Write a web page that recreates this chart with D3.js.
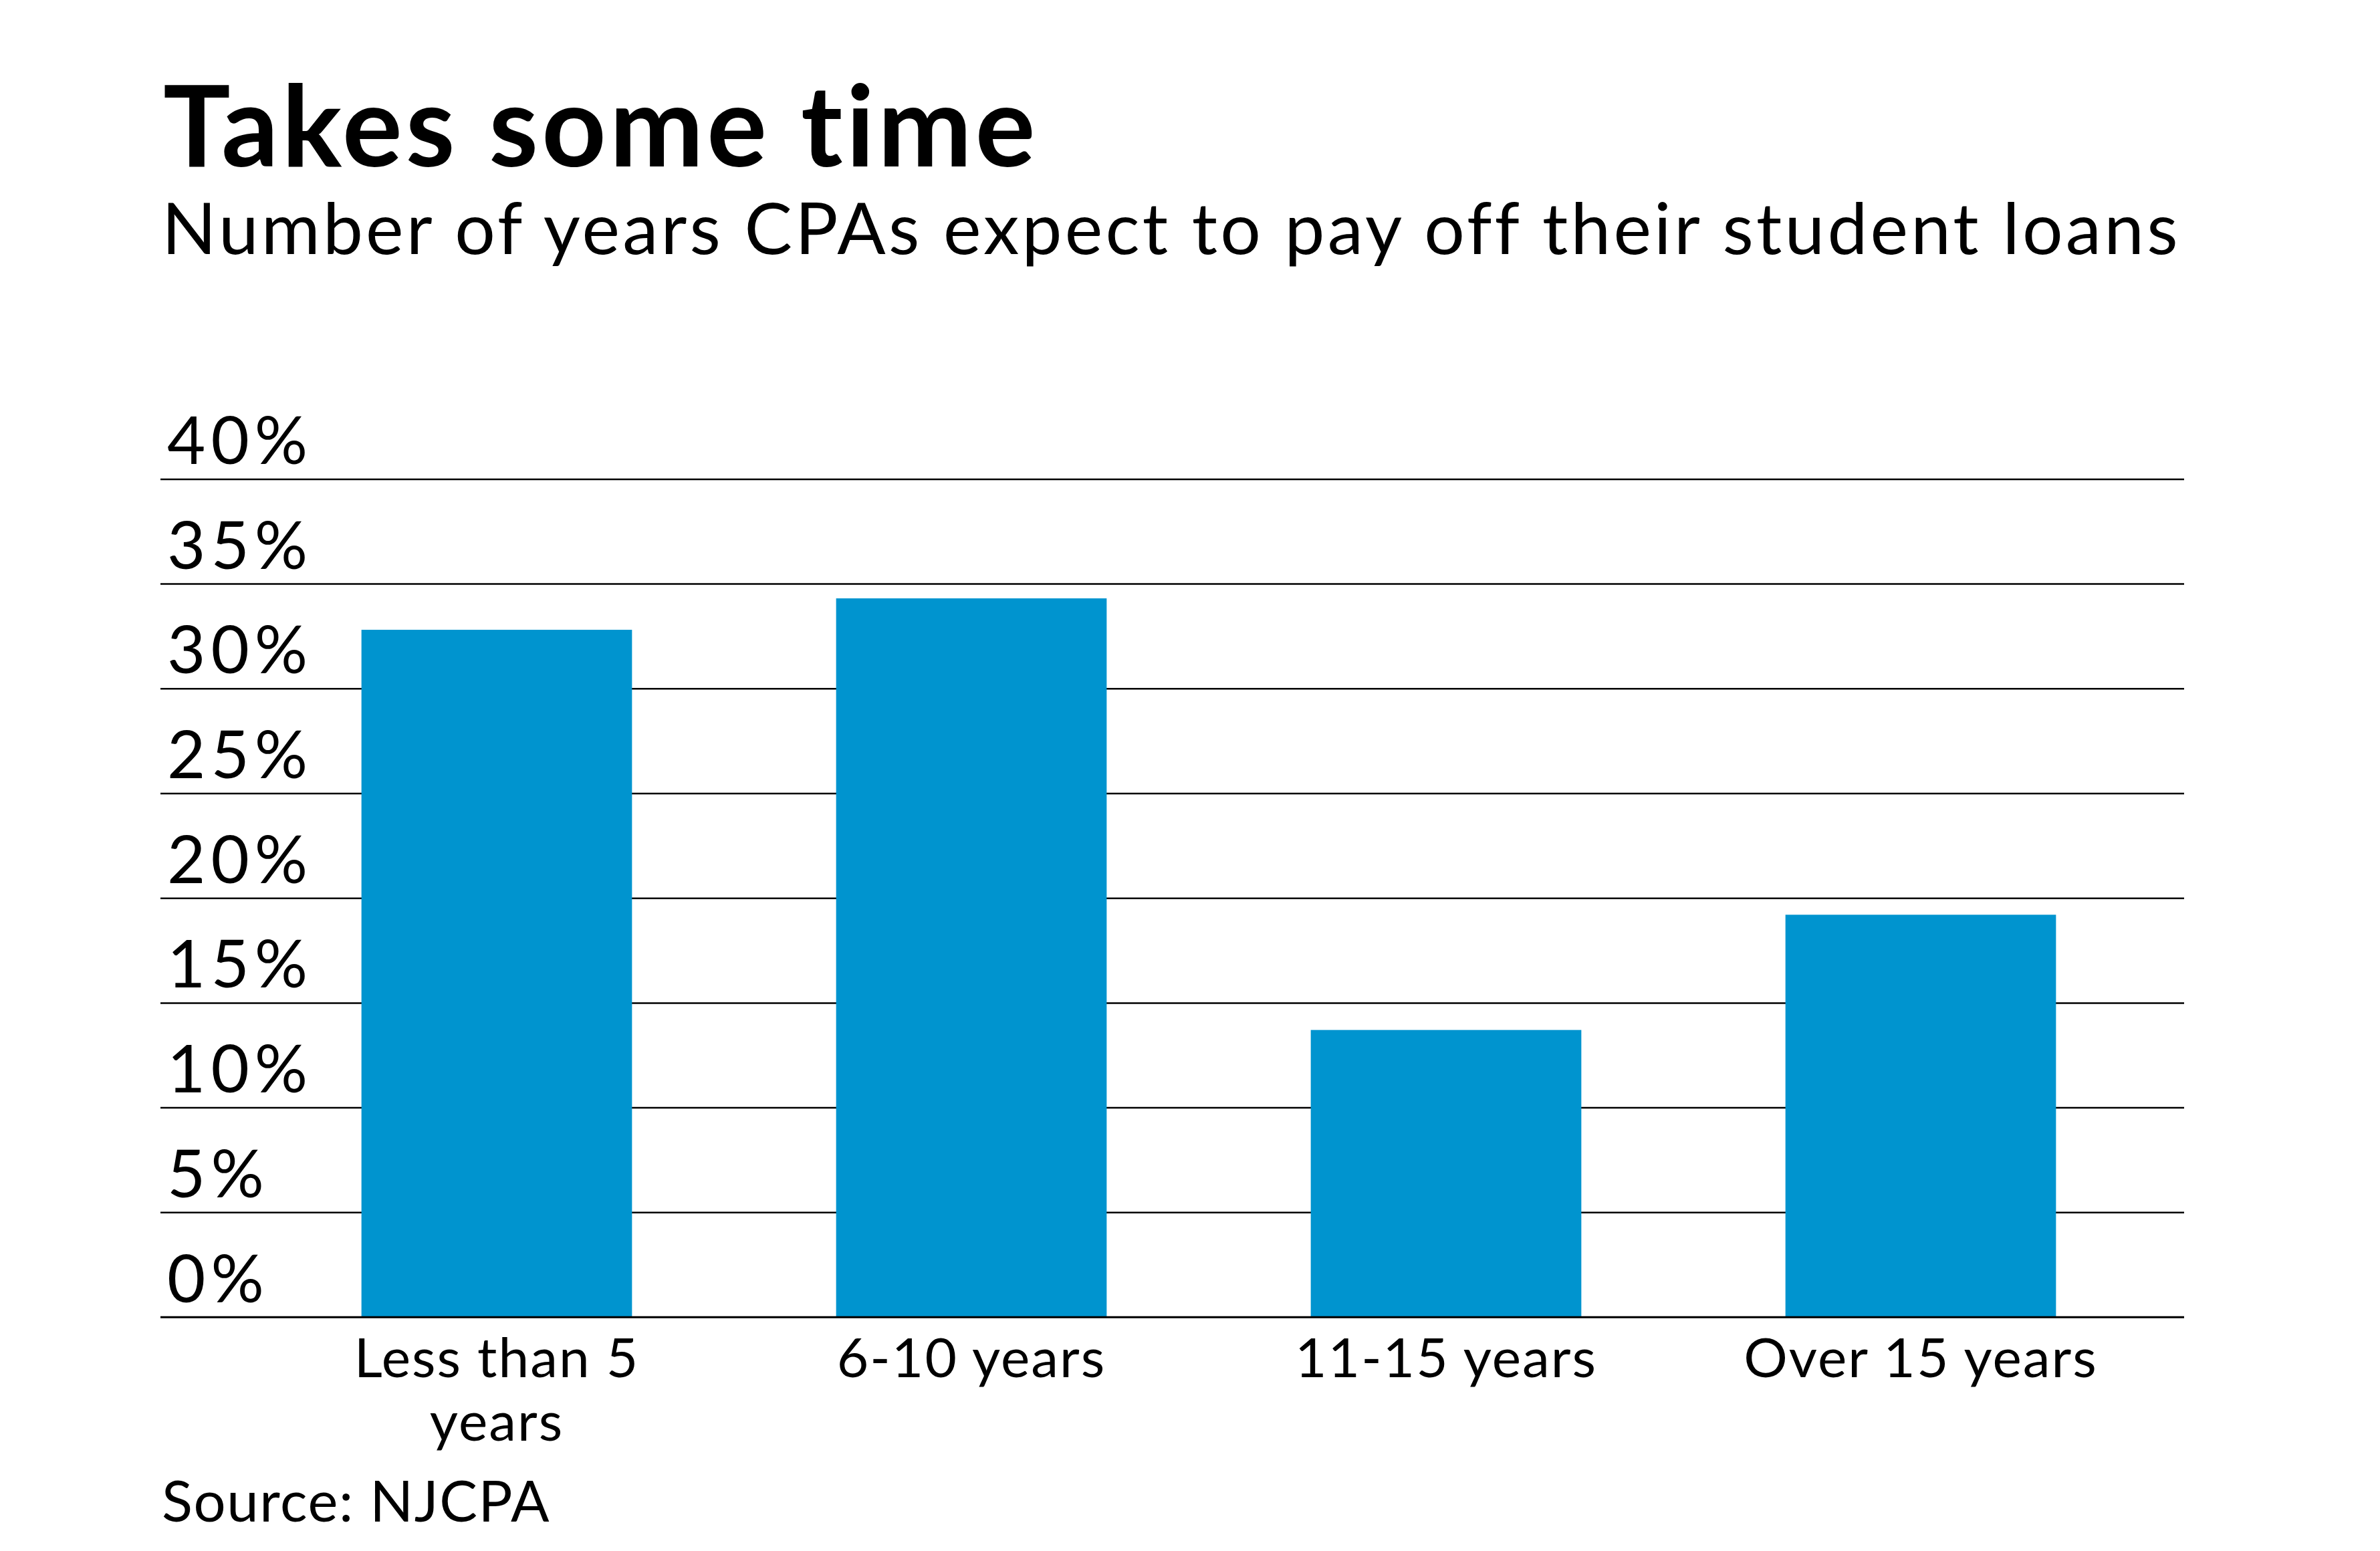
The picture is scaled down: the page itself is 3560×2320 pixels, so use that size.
<!DOCTYPE html>
<html>
<head>
<meta charset="utf-8">
<script src="https://cdn.jsdelivr.net/npm/d3@7"></script>
<style>
  body { margin: 0; background: #fff; }
  text { font-family: Lato, "Open Sans", sans-serif; fill: #000; }
</style>
</head>
<body>
<div id="chart"></div>
<script>
// data
var categories = ["Less than 5 years", "6-10 years", "11-15 years", "Over 15 years"];
var shares = [32.8, 34.3, 13.7, 19.2];
var yTicks = [0, 5, 10, 15, 20, 25, 30, 35, 40];

var svgWidth = 3560;
var svgHeight = 2320;

var svg = d3.select("#chart")
    .append("svg")
    .attr("width", svgWidth)
    .attr("height", svgHeight);

svg.append("rect")
    .attr("width", svgWidth)
    .attr("height", svgHeight)
    .attr("fill", "#fff");

// titles
svg.append("text")
    .attr("x", 244)
    .attr("y", 249)
    .attr("font-size", 168)
    .attr("font-weight", 700)
    .attr("letter-spacing", 5)
    .text("Takes some time");

svg.append("text")
    .attr("x", 242)
    .attr("y", 380)
    .attr("font-size", 107)
    .attr("letter-spacing", 4.2)
    .text("Number of years CPAs expect to pay off their student loans");

var yScale = d3.scaleLinear()
    .domain([0, 40])
    .range([1970, 716.4]);

var xScale = d3.scaleBand()
    .domain(categories)
    .range([388, 3228])
    .paddingInner(0.43)
    .paddingOuter(0.215);

var gridLeft = 240, gridRight = 3267;

// gridlines + labels sitting above each line
var leftAxis = d3.axisLeft(yScale)
    .tickValues(yTicks)
    .tickSize(-(gridRight - gridLeft))
    .tickFormat(d => d + "%");

var yAxis = svg.append("g")
    .attr("class", "yAxis")
    .attr("transform", "translate(" + gridRight + ",0)")
    .call(leftAxis);

yAxis.select(".domain").remove();
yAxis.selectAll(".tick line")
    .attr("transform", "translate(" + (-(gridRight - gridLeft)) + ",0)")
    .attr("x1", 0)
    .attr("x2", gridRight - gridLeft)
    .attr("stroke", "#000")
    .attr("stroke-width", 2.5);
yAxis.selectAll(".tick text")
    .attr("x", -(gridRight - gridLeft) + 10)
    .attr("dy", -23)
    .attr("text-anchor", "start")
    .attr("font-size", 99)
    .attr("letter-spacing", 8)
    .attr("font-family", "Lato, sans-serif")
    .attr("fill", "#000");

// bars
svg.append("g")
    .selectAll("rect")
    .data(shares)
    .enter()
    .append("rect")
    .attr("x", (d, i) => xScale(categories[i]))
    .attr("y", d => yScale(d))
    .attr("width", xScale.bandwidth())
    .attr("height", d => yScale(0) - yScale(d))
    .attr("fill", "#0094cf");

// baseline redrawn over bars
svg.append("line")
    .attr("x1", gridLeft)
    .attr("x2", gridRight)
    .attr("y1", yScale(0))
    .attr("y2", yScale(0))
    .attr("stroke", "#000")
    .attr("stroke-width", 2.5);

// category labels
var bottomAxis = d3.axisBottom(xScale).tickSize(0).tickPadding(0);
var xAxis = svg.append("g")
    .attr("class", "xAxis")
    .attr("transform", "translate(0," + yScale(0) + ")")
    .call(bottomAxis);
xAxis.select(".domain").remove();
xAxis.selectAll(".tick text")
    .attr("font-size", 82)
    .attr("letter-spacing", 2)
    .attr("font-family", "Lato, sans-serif")
    .attr("fill", "#000")
    .call(wrap, 580);

function wrap(texts, width) {
    texts.each(function() {
        var text = d3.select(this);
        var words = text.text().split(/\s+/);
        text.text(null);
        var line = [];
        var tspan = text.append("tspan").attr("x", 0).attr("y", 90);
        var lineNo = 0;
        words.forEach(function(w) {
            line.push(w);
            tspan.text(line.join(" "));
            if (tspan.node().getComputedTextLength() > width && line.length > 1) {
                line.pop();
                tspan.text(line.join(" "));
                line = [w];
                lineNo++;
                tspan = text.append("tspan").attr("x", 0).attr("y", 90 + lineNo * 95).text(w);
            }
        });
        text.attr("dy", null);
    });
}

svg.append("text")
    .attr("x", 242)
    .attr("y", 2276)
    .attr("font-size", 85)
    .attr("letter-spacing", 1.6)
    .text("Source: NJCPA");
</script>
</body>
</html>
